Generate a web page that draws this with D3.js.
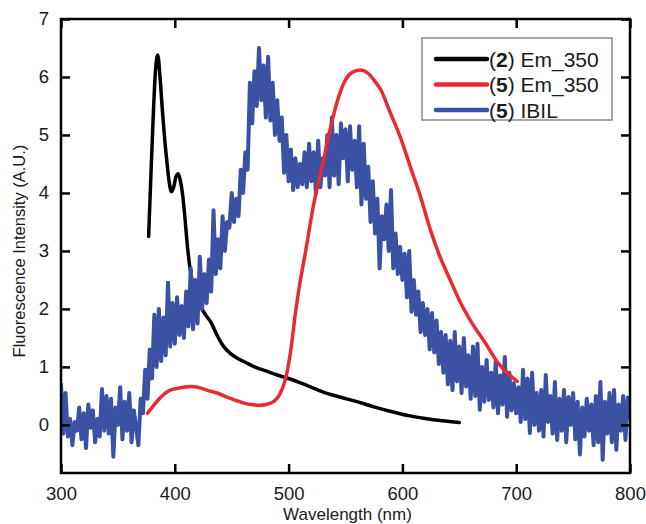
<!DOCTYPE html>
<html>
<head>
<meta charset="utf-8">
<script src="https://cdn.jsdelivr.net/npm/d3@7/dist/d3.min.js"></script>
<style>
  body { margin: 0; background: #fff; }
  text { font-family: "Liberation Sans", Arial, sans-serif; fill: #1a1a1a; }
</style>
</head>
<body>
<div id="chart"></div>
<script>
// (2) Em_350 - black
var em2Nm = [377, 379, 381, 383, 385, 387, 389, 391, 393, 395, 397, 399, 401, 403, 405, 407, 409, 411, 413, 416, 419, 423, 427, 432, 437, 443, 449, 455, 462, 470, 480, 490, 500, 515, 530, 545, 560, 575, 590, 605, 620, 635, 650];
var em2Val = [3.25, 4.3, 5.3, 6.1, 6.38, 6.0, 5.45, 4.95, 4.55, 4.2, 4.02, 4.1, 4.28, 4.33, 4.2, 3.95, 3.55, 3.1, 2.75, 2.42, 2.22, 2.03, 1.9, 1.76, 1.55, 1.35, 1.23, 1.15, 1.08, 1.0, 0.93, 0.86, 0.8, 0.69, 0.57, 0.48, 0.4, 0.31, 0.23, 0.16, 0.11, 0.07, 0.04];

// (5) Em_350 - red
var em5Nm = [376, 380, 385, 390, 396, 402, 408, 414, 420, 428, 437, 447, 457, 467, 475, 482, 488, 492, 495, 498, 502, 506, 510, 515, 522, 530, 537, 544, 550, 556, 563, 570, 576, 581, 589, 598, 607, 616, 624, 633, 642, 650, 661, 673, 684, 692, 701];
var em5Val = [0.2, 0.3, 0.42, 0.52, 0.6, 0.63, 0.65, 0.66, 0.65, 0.6, 0.55, 0.47, 0.4, 0.35, 0.34, 0.36, 0.42, 0.52, 0.65, 0.85, 1.3, 1.93, 2.45, 3.0, 3.8, 4.5, 5.14, 5.66, 5.95, 6.08, 6.12, 6.06, 5.92, 5.78, 5.4, 4.97, 4.45, 3.93, 3.4, 2.9, 2.5, 2.15, 1.76, 1.41, 1.07, 0.9, 0.75];

// (5) IBIL - blue, sampled every 2 nm from 300 nm
var ibilStart = 300, ibilStep = 2;
var ibilVal = [
  0.72, -0.15, 0.55, -0.2, 0.1, -0.35, 0.05, -0.1, 0.3, -0.25,
  0.2, -0.4, 0.35, -0.05, 0.25, -0.3, 0.1, -0.2, 0.62, -0.1,
  0.5, -0.15, 0.45, -0.55, 0.3, 0.0, 0.65, -0.25, 0.4, -0.1,
  0.55, -0.3, 0.25, -0.05, -0.35, 0.45, 0.2, 0.95, 0.45, 1.3,
  0.8, 1.9, 1.0, 2.0, 1.1, 1.85, 1.2, 2.45, 1.35, 2.1,
  1.4, 2.2, 1.55, 2.05, 1.5, 2.3, 1.7, 2.7, 1.65, 2.5,
  1.75, 2.9, 2.0, 2.6, 2.1, 2.85, 2.3, 3.7, 2.6, 3.2,
  2.7, 3.6, 3.0, 3.5, 3.4, 4.0, 3.5, 3.9, 3.6, 4.4,
  4.0, 4.7, 4.4, 5.9, 5.2, 6.1, 5.5, 6.5, 5.6, 6.2,
  5.3, 6.35, 5.25, 5.9, 5.0, 5.6, 4.9, 5.3, 4.35, 5.0,
  4.2, 4.75, 4.05, 4.6, 4.1, 4.5, 4.15, 4.7, 4.1, 4.85,
  4.2, 4.7, 4.0, 4.9, 4.1, 4.6, 4.3, 5.0, 4.1, 5.3,
  4.3, 5.0, 4.15, 5.2, 4.6, 5.1, 4.2, 5.15, 4.4, 4.9,
  4.1, 5.15, 3.8, 4.85, 3.9, 4.45, 3.5, 4.2, 3.3, 3.9,
  2.7, 3.6, 3.2, 3.8, 3.0, 4.05, 2.7, 3.3, 2.6, 3.07,
  2.5, 2.95, 2.2, 3.0, 1.95, 2.5, 1.9, 2.3, 1.6, 2.1,
  1.55, 2.0, 1.3, 1.93, 1.25, 1.8, 1.05, 1.6, 0.9, 1.55,
  0.7, 1.45, 0.6, 1.6, 0.75, 1.35, 0.55, 1.5, 0.66, 1.2,
  0.45, 1.35, 0.5, 1.4, 0.26, 1.0, 0.4, 1.12, 0.43, 0.9,
  0.3, 1.1, 0.2, 0.85, 0.35, 1.17, 0.14, 0.9, 0.25, 0.72,
  0.2, 0.65, 0.05, 0.95, 0.1, 0.8, -0.14, 0.9, 0.0, 0.55,
  -0.1, 0.6, -0.2, 0.86, 0.05, 0.5, -0.15, 0.74, -0.26, 0.45,
  -0.1, 0.6, -0.3, 0.48, 0.0, 0.55, -0.25, 0.4, -0.51, 0.3,
  -0.2, 0.45, -0.1, 0.35, -0.35, 0.5, -0.3, 0.74, -0.6, 0.4,
  -0.15, 0.55, -0.3, 0.6, -0.43, 0.35, -0.1, 0.5, -0.26, 0.47,
  0.1
];

var xTicks = [300, 400, 500, 600, 700, 800];
var yTicks = [0, 1, 2, 3, 4, 5, 6, 7];

var legendItems = [
  { num: '2', rest: ' Em_350', color: '#000000' },
  { num: '5', rest: ' Em_350', color: '#ea2a31' },
  { num: '5', rest: ' IBIL', color: '#3b51a3' }
];

var W = 646, H = 524;
var margin = { left: 61, right: 16, top: 19, bottom: 51 };
var iw = W - margin.left - margin.right,
    ih = H - margin.top - margin.bottom;

var x = d3.scaleLinear().domain([300, 800]).range([0, iw]);
var y = d3.scaleLinear().domain([-0.83, 7]).range([ih, 0]);

var svg = d3.select('#chart').append('svg')
    .attr('width', W).attr('height', H);
var g = svg.append('g')
    .attr('transform', 'translate(' + margin.left + ',' + margin.top + ')');

g.append('clipPath').attr('id', 'plotclip')
    .append('rect').attr('x', 0).attr('y', 0).attr('width', iw).attr('height', ih);

var line = d3.line()
    .x(function(d){ return x(d[0]); })
    .y(function(d){ return y(d[1]); });

var em2 = em2Nm.map(function(n, i){ return [n, em2Val[i]]; });
var em5 = em5Nm.map(function(n, i){ return [n, em5Val[i]]; });
var ibil = ibilVal.map(function(v, i){ return [ibilStart + i * ibilStep, v]; });

var plot = g.append('g').attr('clip-path', 'url(#plotclip)');

plot.append('path').datum(em2)
    .attr('d', line.curve(d3.curveMonotoneX))
    .attr('fill', 'none').attr('stroke', '#000').attr('stroke-width', 3.5)
    .attr('stroke-linejoin', 'round').attr('stroke-linecap', 'round');

plot.append('path').datum(ibil)
    .attr('d', line.curve(d3.curveLinear))
    .attr('fill', 'none').attr('stroke', '#3b51a3').attr('stroke-width', 4)
    .attr('stroke-linejoin', 'round');

plot.append('path').datum(em5)
    .attr('d', line.curve(d3.curveMonotoneX))
    .attr('fill', 'none').attr('stroke', '#ea2a31').attr('stroke-width', 3.5)
    .attr('stroke-linejoin', 'round').attr('stroke-linecap', 'round');

// axes, ticks pointing inward
var tick = 9;
var axB = g.append('g').attr('transform', 'translate(0,' + ih + ')')
    .call(d3.axisBottom(x).tickValues(xTicks).tickSize(-tick).tickPadding(14).tickFormat(d3.format('d')));
var axT = g.append('g')
    .call(d3.axisTop(x).tickValues(xTicks).tickSize(-tick).tickFormat(''));
var axL = g.append('g')
    .call(d3.axisLeft(y).tickValues(yTicks).tickSize(-tick).tickPadding(12).tickFormat(d3.format('d')));
var axR = g.append('g').attr('transform', 'translate(' + iw + ',0)')
    .call(d3.axisRight(y).tickValues(yTicks).tickSize(-tick).tickFormat(''));

[axB, axT, axL, axR].forEach(function(a){
  a.select('.domain').remove();
  a.selectAll('.tick line').attr('stroke', '#000').attr('stroke-width', 2.5);
  a.selectAll('.tick text').attr('font-size', 18.5).attr('fill', '#1a1a1a')
    .style('font-family', '"Liberation Sans", Arial, sans-serif');
});

g.append('rect')
    .attr('x', 0).attr('y', 0).attr('width', iw).attr('height', ih)
    .attr('fill', 'none').attr('stroke', '#000').attr('stroke-width', 2.5);

// axis titles
g.append('text')
    .attr('x', iw / 2 + 2).attr('y', ih + 47)
    .attr('text-anchor', 'middle').attr('font-size', 17)
    .text('Wavelength (nm)');

g.append('text')
    .attr('transform', 'translate(' + (25 - margin.left) + ',' + (251 - margin.top) + ') rotate(-90)')
    .attr('text-anchor', 'middle').attr('font-size', 16.5)
    .text('Fluorescence Intensity (A.U.)');

// legend
var lg = svg.append('g').attr('transform', 'translate(422,38)');
lg.append('rect').attr('width', 190).attr('height', 82)
    .attr('fill', '#fff').attr('stroke', '#8a8a8a').attr('stroke-width', 1.5);
var rows = lg.selectAll('g.row').data(legendItems).enter().append('g')
    .attr('transform', function(d, i){ return 'translate(0,' + (21 + i * 25.5) + ')'; });
rows.append('line').attr('x1', 14).attr('x2', 65)
    .attr('stroke', function(d){ return d.color; }).attr('stroke-width', 4.5)
    .attr('stroke-linecap', 'round');
var t = rows.append('text').attr('x', 67).attr('y', 7.5).attr('font-size', 21);
t.append('tspan').text('(');
t.append('tspan').attr('font-weight', 'bold').text(function(d){ return d.num; });
t.append('tspan').text(function(d){ return ')' + d.rest; });
</script>
</body>
</html>
